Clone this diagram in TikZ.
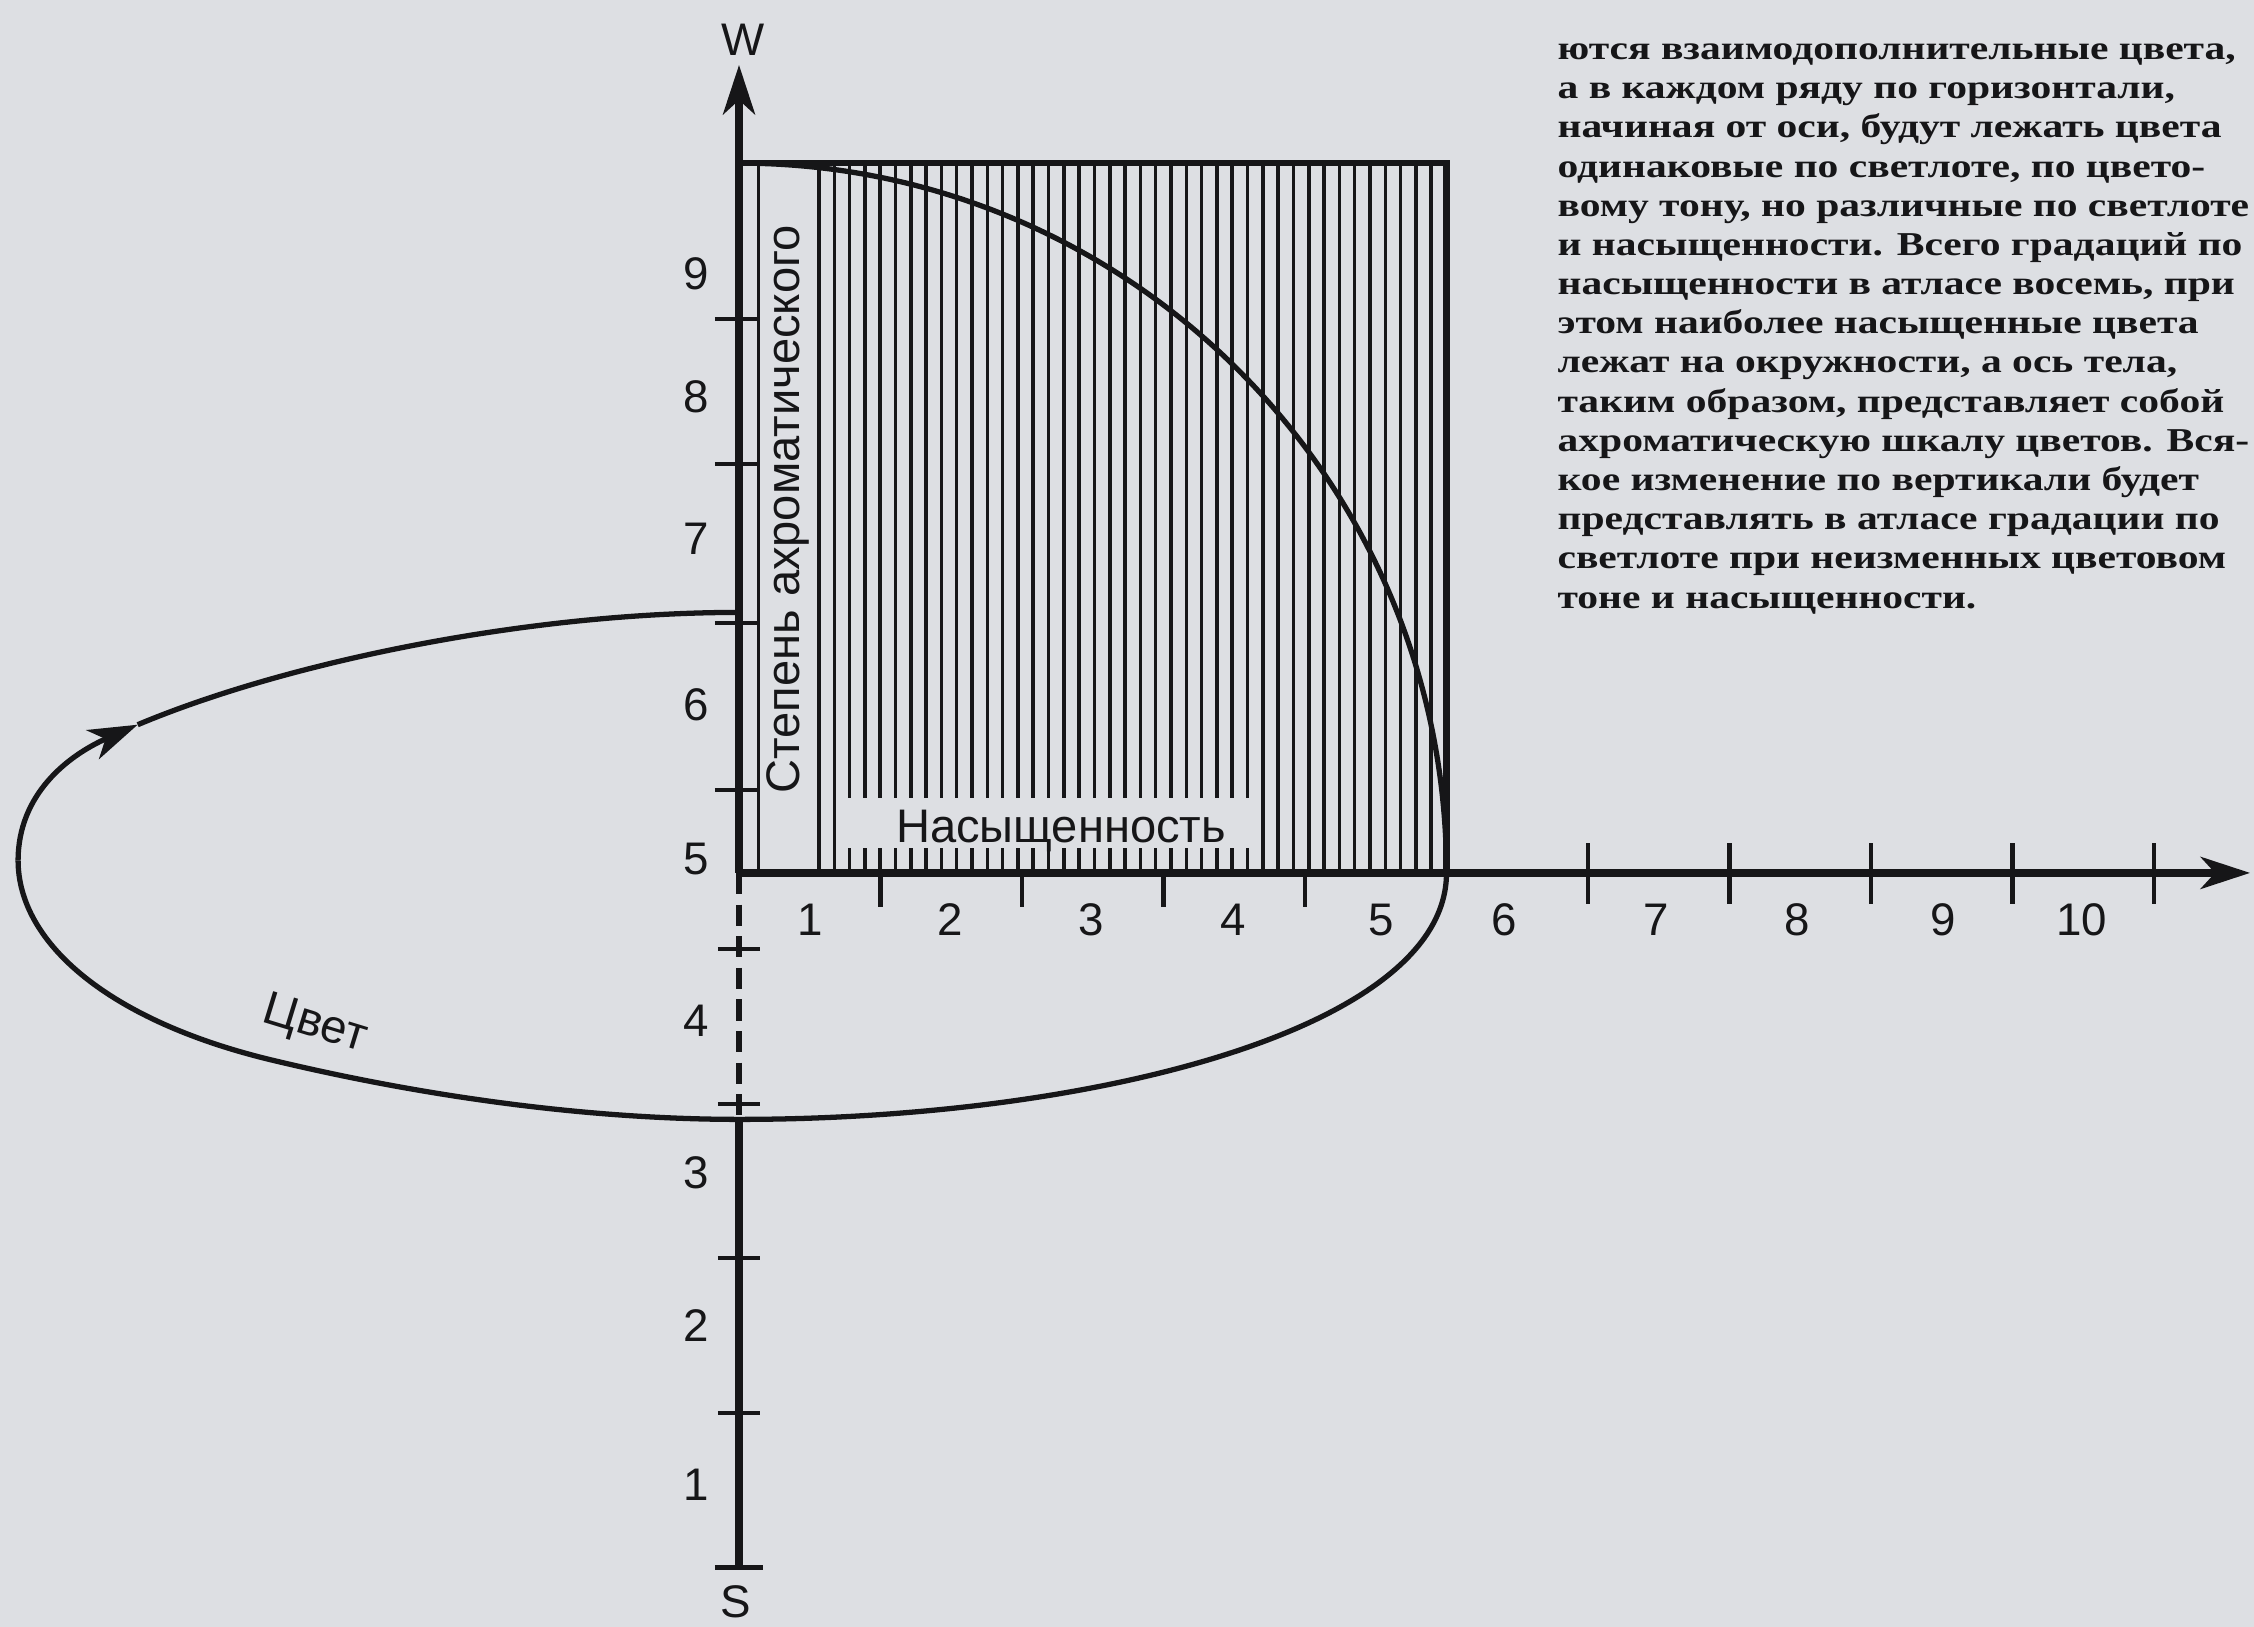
\documentclass[tikz,border=0pt]{standalone}
\usepackage{fontspec}
\setmainfont{Liberation Serif}
\setsansfont{Liberation Sans}
\newfontfamily\notefont[FakeStretch=1.245]{Liberation Serif}
\usetikzlibrary{arrows.meta}
\definecolor{paper}{RGB}{221,223,227}
\definecolor{ink}{RGB}{22,22,24}

\begin{document}
\begin{tikzpicture}[x=1.415cm, y=1.56cm,
    lab/.style={font=\sffamily\fontsize{13}{15}\selectfont, text=ink, inner sep=0pt},
    axisline/.style={ink, line width=2.4pt},
    hatch/.style={ink, line width=1pt},
    tickline/.style={ink, line width=1.2pt},
    huecurve/.style={ink, line width=1.5pt}]
    \fill[paper] (-5.223,0.167) rectangle (10.707,10.596);
    \useasboundingbox (-5.223,0.167) rectangle (10.707,10.596);
    \clip (-5.223,0.167) rectangle (10.707,10.596);
    % vertical hatching of the page
    \foreach \k in {0,...,40}
      \draw[hatch] ({0.565+0.10817*\k},5) -- ({0.565+0.10817*\k},9.55);
    \fill[paper] ({0.565+0.10817*1.5},5.16) rectangle ({0.565+0.10817*28.5},5.48);
    \draw[ink, line width=0.9pt] (0.14,5) -- (0.14,9.55);
    \draw[ink, line width=1.8pt] (0,9.55) -- (5,9.55) -- (5,5);
    \draw[huecurve] (5,5) arc[start angle=0, end angle=90, x radius=5, y radius=4.55];
    % hue loop
    \draw[huecurve] (0,6.67) .. controls (-1.5,6.67) and (-3.2,6.35) .. (-4.25,5.95);
    \draw[huecurve, -{Stealth[length=14pt,width=9pt,inset=4pt]}] (-5.095,5.08) .. controls (-5.095,5.5) and (-4.75,5.75) .. (-4.25,5.95);
    \draw[huecurve] (-5.095,5.08) .. controls (-5.095,4.55) and (-4.45,4.05) .. (-3.3,3.8)
      .. controls (-2.15,3.55) and (-1.0,3.42) .. (0,3.42)
      .. controls (2.5,3.42) and (5,4.0) .. (5,5);
    % axes
    \draw[axisline, -{Stealth[length=14pt,width=9pt,inset=4pt]}] (0,5) -- (0,10.18);
    \draw[axisline, -{Stealth[length=14pt,width=9pt,inset=4pt]}] (0,5) -- (10.68,5);
    \draw[ink, line width=1.8pt, dash pattern=on 6pt off 3pt] (0,5) -- (0,3.42);
    \draw[axisline] (0,3.42) -- (0,0.55);
    \foreach \v in {5.53,6.6,7.62,8.55} \draw[tickline] (-0.17,\v) -- (0.14,\v);
    \foreach \v in {4.51,3.52,2.53,1.54} \draw[tickline] (-0.15,\v) -- (0.15,\v);
    \draw[ink, line width=1.4pt] (-0.17,0.55) -- (0.17,0.55);
    \foreach \u in {1,...,4} \draw[tickline] (\u,5) -- (\u,4.78);
    \foreach \u in {6,...,10} \draw[tickline] (\u,5.19) -- (\u,4.8);
    % scale labels
    \foreach \v/\lab in {8.84/9, 8.05/8, 7.14/7, 6.08/6, 5.09/5, 4.05/4, 3.08/3, 2.10/2, 1.08/1}
      \node[lab] (v\lab) at (-0.3,\v) {\lab};
    \foreach \u/\lab in {0.5/1, 1.49/2, 2.49/3, 3.49/4, 4.54/5, 5.41/6, 6.48/7, 7.48/8, 8.51/9, 9.49/10}
      \node[lab] (h\lab) at (\u,4.70) {\lab};
    \node[lab] (wlab) at (0.03,10.34) {W};
    \node[lab] (slab) at (-0.02,0.33) {S};
    \node[lab, font=\sffamily\fontsize{13.4}{15}\selectfont, rotate=90] (ach) at (0.346,7.33) {Степень ахроматического};
    \node[lab, font=\sffamily\fontsize{13.4}{15}\selectfont] (sat) at (2.276,5.27) {Насыщенность};
    \node[lab, font=\sffamily\fontsize{13.4}{15}\selectfont, rotate=-17] (huelab) at (-3.0,4.02) {Цвет};
    % text of the page
    \node[anchor=north west, inner sep=0pt, align=left, text=ink,
          font=\notefont\bfseries\fontsize{9.5}{11.15}\selectfont] (note) at (5.78,10.32)
      {ются взаимодополнительные цвета,\\
       а в каждом ряду по горизонтали,\\
       начиная от оси, будут лежать цвета\\
       одинаковые по светлоте, по цвето-\\
       вому тону, но различные по светлоте\\
       и насыщенности. Всего градаций по\\
       насыщенности в атласе восемь, при\\
       этом наиболее насыщенные цвета\\
       лежат на окружности, а ось тела,\\
       таким образом, представляет собой\\
       ахроматическую шкалу цветов. Вся-\\
       кое изменение по вертикали будет\\
       представлять в атласе градации по\\
       светлоте при неизменных цветовом\\
       тоне и насыщенности.};
  \end{tikzpicture}
\end{document}
